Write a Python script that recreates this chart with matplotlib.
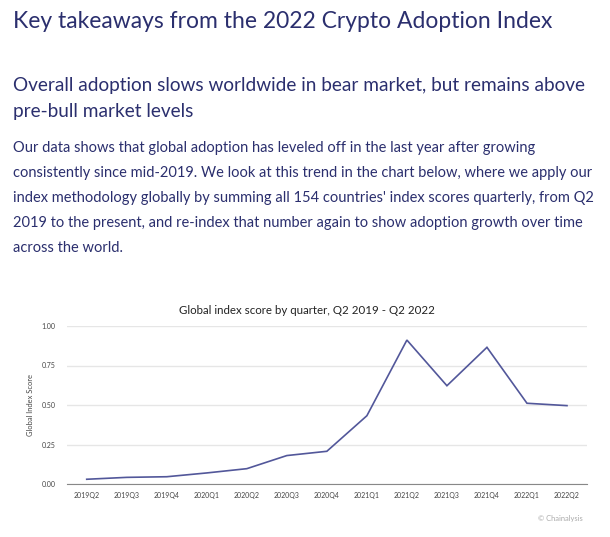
import matplotlib
matplotlib.use("Agg")
import matplotlib.pyplot as plt

quarters = ["2019Q2", "2019Q3", "2019Q4", "2020Q1", "2020Q2", "2020Q3", "2020Q4",
            "2021Q1", "2021Q2", "2021Q3", "2021Q4", "2022Q1", "2022Q2"]
scores = [0.030, 0.042, 0.046, 0.070, 0.097, 0.180, 0.207,
          0.432, 0.911, 0.622, 0.865, 0.511, 0.496]
yticks = [0.0, 0.25, 0.5, 0.75, 1.0]
ytick_labels = ["0.00", "0.25", "0.50", "0.75", "1.00"]

W, H = 610, 537
fig = plt.figure(figsize=(W / 100, H / 100), dpi=100)
plt.rcParams['font.family'] = ['Lato', 'DejaVu Sans']

navy = "#2b2f6e"

def fx(px):
    return px / W

def fy(py):
    return 1 - py / H

fig.text(fx(13), fy(22), "Key takeaways from the 2022 Crypto Adoption Index",
         fontsize=16.45, color=navy, va="center", ha="left")
fig.text(fx(13), fy(85), "Overall adoption slows worldwide in bear market, but remains above",
         fontsize=13.7, color=navy, va="center", ha="left")
fig.text(fx(13), fy(111.5), "pre-bull market levels",
         fontsize=13.7, color=navy, va="center", ha="left")

body = [
    "Our data shows that global adoption has leveled off in the last year after growing",
    "consistently since mid-2019. We look at this trend in the chart below, where we apply our",
    "index methodology globally by summing all 154 countries' index scores quarterly, from Q2",
    "2019 to the present, and re-index that number again to show adoption growth over time",
    "across the world.",
]
for i, line in enumerate(body):
    fig.text(fx(13), fy(148.3 + 24.8 * i), line, fontsize=10.5, color=navy,
             va="center", ha="left")

# chart axes
x0, x1 = 66.7, 587
y_top, y_bot = 326, 484
ax = fig.add_axes([fx(x0), fy(y_bot), fx(x1) - fx(x0), (y_bot - y_top) / H])
ax.set_ylim(0, 1.0)
ax.set_xlim(-0.5, len(quarters) - 0.5)
ax.plot(range(len(quarters)), scores, color="#52579a", lw=1.2, solid_joinstyle="miter")
ax.set_yticks(yticks)
ax.set_yticklabels(ytick_labels)
ax.set_xticks(range(len(quarters)))
ax.set_xticklabels(quarters)
ax.tick_params(axis="both", length=0, labelsize=5.0, colors="#444444", pad=6)
ax.tick_params(axis="y", pad=8)
for s in ["top", "right", "left"]:
    ax.spines[s].set_visible(False)
ax.spines["bottom"].set_color("#888888")
ax.spines["bottom"].set_linewidth(0.8)
ax.grid(axis="y", color="#e6e6e6", lw=1.0)
ax.set_axisbelow(True)
ax.set_ylabel("Global Index Score", fontsize=5.4, color="#444444")
ax.yaxis.set_label_coords((34 - x0) / (x1 - x0), 0.5)

fig.text(fx(306.5), fy(310), "Global index score by quarter, Q2 2019 - Q2 2022",
         fontsize=8.25, color="#222222", ha="center", va="center")
fig.text(fx(583), fy(519), "© Chainalysis", fontsize=5.4, color="#aaaaaa",
         ha="right", va="center")

fig.savefig("out.png", dpi=100)
